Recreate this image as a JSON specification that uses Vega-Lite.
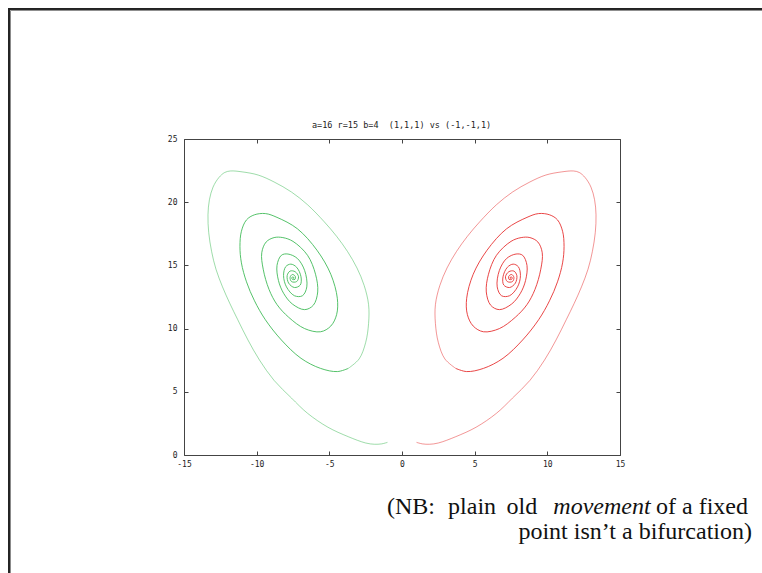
{
  "$schema": "https://vega.github.io/schema/vega-lite/v6.json",
  "width": 436,
  "height": 316,
  "autosize": "none",
  "padding": {"left": 184, "top": 139, "right": 142, "bottom": 118},
  "background": "#ffffff",
  "config": {
    "view": {"stroke": "#444444", "strokeWidth": 1},
    "axis": {"domain": false, "grid": false, "tickColor": "#444444", "tickSize": -4, "tickWidth": 1, "labelFont": "DejaVu Sans Mono", "labelFontSize": 8, "labelColor": "#222222", "labelFlush": false, "labelOverlap": false, "labelBound": false}
  },
  "datasets": {
    "traj": [
      {"r":"(1,1,1)","p":"outer","t":0,"x":1.0,"z":1.0},{"r":"(1,1,1)","p":"outer","t":1,"x":1.4,"z":0.88},{"r":"(1,1,1)","p":"outer","t":2,"x":1.9,"z":0.85},{"r":"(1,1,1)","p":"outer","t":3,"x":2.5,"z":0.95},{"r":"(1,1,1)","p":"outer","t":4,"x":3.7,"z":1.45},{"r":"(1,1,1)","p":"outer","t":5,"x":5.1,"z":2.2},{"r":"(1,1,1)","p":"outer","t":6,"x":6.5,"z":3.3},{"r":"(1,1,1)","p":"outer","t":7,"x":7.6,"z":4.5},{"r":"(1,1,1)","p":"outer","t":8,"x":8.8,"z":5.9},{"r":"(1,1,1)","p":"outer","t":9,"x":9.8,"z":7.5},{"r":"(1,1,1)","p":"outer","t":10,"x":10.6,"z":9.1},{"r":"(1,1,1)","p":"outer","t":11,"x":11.3,"z":10.7},{"r":"(1,1,1)","p":"outer","t":12,"x":11.85,"z":12.0},{"r":"(1,1,1)","p":"outer","t":13,"x":12.35,"z":13.3},{"r":"(1,1,1)","p":"outer","t":14,"x":12.8,"z":14.7},{"r":"(1,1,1)","p":"outer","t":15,"x":13.1,"z":16.1},{"r":"(1,1,1)","p":"outer","t":16,"x":13.3,"z":17.6},{"r":"(1,1,1)","p":"outer","t":17,"x":13.35,"z":19.0},{"r":"(1,1,1)","p":"outer","t":18,"x":13.25,"z":20.2},{"r":"(1,1,1)","p":"outer","t":19,"x":13.0,"z":21.2},{"r":"(1,1,1)","p":"outer","t":20,"x":12.6,"z":21.95},{"r":"(1,1,1)","p":"outer","t":21,"x":12.2,"z":22.35},{"r":"(1,1,1)","p":"outer","t":22,"x":11.8,"z":22.47},{"r":"(1,1,1)","p":"outer","t":23,"x":11.0,"z":22.4},{"r":"(1,1,1)","p":"outer","t":24,"x":9.9,"z":22.15},{"r":"(1,1,1)","p":"outer","t":25,"x":8.8,"z":21.6},{"r":"(1,1,1)","p":"outer","t":26,"x":7.6,"z":20.8},{"r":"(1,1,1)","p":"outer","t":27,"x":6.5,"z":19.8},{"r":"(1,1,1)","p":"outer","t":28,"x":5.35,"z":18.45},{"r":"(1,1,1)","p":"outer","t":29,"x":4.5,"z":17.3},{"r":"(1,1,1)","p":"outer","t":30,"x":3.75,"z":16.1},{"r":"(1,1,1)","p":"outer","t":31,"x":3.1,"z":14.8},{"r":"(1,1,1)","p":"outer","t":32,"x":2.6,"z":13.4},{"r":"(1,1,1)","p":"outer","t":33,"x":2.3,"z":11.9},{"r":"(1,1,1)","p":"outer","t":34,"x":2.3,"z":10.4},{"r":"(1,1,1)","p":"outer","t":35,"x":2.5,"z":8.9},{"r":"(1,1,1)","p":"outer","t":36,"x":2.95,"z":7.6},{"r":"(1,1,1)","p":"outer","t":37,"x":3.7,"z":6.85},
      {"r":"(1,1,1)","p":"inner","t":37,"x":3.7,"z":6.85},{"r":"(1,1,1)","p":"inner","t":38,"x":4.45,"z":6.6},{"r":"(1,1,1)","p":"inner","t":39,"x":5.6,"z":6.85},{"r":"(1,1,1)","p":"inner","t":40,"x":6.95,"z":7.65},{"r":"(1,1,1)","p":"inner","t":41,"x":8.3,"z":9.1},{"r":"(1,1,1)","p":"inner","t":42,"x":9.4,"z":10.7},{"r":"(1,1,1)","p":"inner","t":43,"x":10.15,"z":12.2},{"r":"(1,1,1)","p":"inner","t":44,"x":10.7,"z":13.7},{"r":"(1,1,1)","p":"inner","t":45,"x":11.05,"z":15.2},{"r":"(1,1,1)","p":"inner","t":46,"x":11.15,"z":16.5},{"r":"(1,1,1)","p":"inner","t":47,"x":11.05,"z":17.7},{"r":"(1,1,1)","p":"inner","t":48,"x":10.7,"z":18.6},{"r":"(1,1,1)","p":"inner","t":49,"x":10.16,"z":19.0},{"r":"(1,1,1)","p":"inner","t":50,"x":9.4,"z":19.1},{"r":"(1,1,1)","p":"inner","t":51,"x":8.6,"z":18.8},{"r":"(1,1,1)","p":"inner","t":52,"x":7.2,"z":17.9},{"r":"(1,1,1)","p":"inner","t":53,"x":5.85,"z":16.2},{"r":"(1,1,1)","p":"inner","t":54,"x":4.9,"z":14.3},{"r":"(1,1,1)","p":"inner","t":55,"x":4.45,"z":12.4},{"r":"(1,1,1)","p":"inner","t":56,"x":4.5,"z":11.1},{"r":"(1,1,1)","p":"inner","t":57,"x":4.9,"z":10.2},{"r":"(1,1,1)","p":"inner","t":58,"x":5.6,"z":9.75},{"r":"(1,1,1)","p":"inner","t":59,"x":6.7,"z":10.0},{"r":"(1,1,1)","p":"inner","t":60,"x":7.8,"z":10.9},{"r":"(1,1,1)","p":"inner","t":61,"x":8.6,"z":11.9},{"r":"(1,1,1)","p":"inner","t":62,"x":9.15,"z":13.1},{"r":"(1,1,1)","p":"inner","t":63,"x":9.55,"z":14.7},{"r":"(1,1,1)","p":"inner","t":64,"x":9.65,"z":16.0},{"r":"(1,1,1)","p":"inner","t":65,"x":9.35,"z":16.85},{"r":"(1,1,1)","p":"inner","t":66,"x":8.8,"z":17.2},{"r":"(1,1,1)","p":"inner","t":67,"x":8.2,"z":17.2},{"r":"(1,1,1)","p":"inner","t":68,"x":7.5,"z":16.9},{"r":"(1,1,1)","p":"inner","t":69,"x":6.5,"z":15.8},{"r":"(1,1,1)","p":"inner","t":70,"x":5.95,"z":14.3},{"r":"(1,1,1)","p":"inner","t":71,"x":5.8,"z":12.9},{"r":"(1,1,1)","p":"inner","t":72,"x":6.1,"z":11.85},{"r":"(1,1,1)","p":"inner","t":73,"x":6.7,"z":11.5},{"r":"(1,1,1)","p":"inner","t":74,"x":7.55,"z":11.95},{"r":"(1,1,1)","p":"inner","t":75,"x":8.15,"z":12.8},{"r":"(1,1,1)","p":"inner","t":76,"x":8.5,"z":13.8},{"r":"(1,1,1)","p":"inner","t":77,"x":8.6,"z":15.0},{"r":"(1,1,1)","p":"inner","t":78,"x":8.3,"z":15.8},{"r":"(1,1,1)","p":"inner","t":79,"x":7.85,"z":15.9},{"r":"(1,1,1)","p":"inner","t":80,"x":7.2,"z":15.55},{"r":"(1,1,1)","p":"inner","t":81,"x":6.7,"z":14.6},{"r":"(1,1,1)","p":"inner","t":82,"x":6.55,"z":13.3},{"r":"(1,1,1)","p":"inner","t":83,"x":6.85,"z":12.6},{"r":"(1,1,1)","p":"inner","t":84,"x":7.4,"z":12.6},{"r":"(1,1,1)","p":"inner","t":85,"x":7.95,"z":13.3},{"r":"(1,1,1)","p":"inner","t":86,"x":8.15,"z":14.2},{"r":"(1,1,1)","p":"inner","t":87,"x":8.0,"z":14.9},{"r":"(1,1,1)","p":"inner","t":88,"x":7.65,"z":15.1},{"r":"(1,1,1)","p":"inner","t":89,"x":7.25,"z":14.85},{"r":"(1,1,1)","p":"inner","t":90,"x":6.95,"z":14.1},{"r":"(1,1,1)","p":"inner","t":91,"x":7.0,"z":13.45},{"r":"(1,1,1)","p":"inner","t":92,"x":7.4,"z":13.25},{"r":"(1,1,1)","p":"inner","t":93,"x":7.8,"z":13.6},{"r":"(1,1,1)","p":"inner","t":94,"x":7.9,"z":14.2},{"r":"(1,1,1)","p":"inner","t":95,"x":7.7,"z":14.55},{"r":"(1,1,1)","p":"inner","t":96,"x":7.35,"z":14.5},{"r":"(1,1,1)","p":"inner","t":97,"x":7.12,"z":14.1},{"r":"(1,1,1)","p":"inner","t":98,"x":7.25,"z":13.72},{"r":"(1,1,1)","p":"inner","t":99,"x":7.6,"z":13.72},{"r":"(1,1,1)","p":"inner","t":100,"x":7.7,"z":14.05},{"r":"(1,1,1)","p":"inner","t":101,"x":7.55,"z":14.28},{"r":"(1,1,1)","p":"inner","t":102,"x":7.35,"z":14.15},{"r":"(1,1,1)","p":"inner","t":103,"x":7.36,"z":13.9},{"r":"(1,1,1)","p":"inner","t":104,"x":7.55,"z":13.9},{"r":"(1,1,1)","p":"inner","t":105,"x":7.58,"z":14.05},{"r":"(1,1,1)","p":"inner","t":106,"x":7.47,"z":14.08},{"r":"(1,1,1)","p":"inner","t":107,"x":7.44,"z":13.98},{"r":"(1,1,1)","p":"inner","t":108,"x":7.5,"z":14.0},
      {"r":"(-1,-1,1)","p":"outer","t":0,"x":-1.0,"z":1.0},{"r":"(-1,-1,1)","p":"outer","t":1,"x":-1.4,"z":0.88},{"r":"(-1,-1,1)","p":"outer","t":2,"x":-1.9,"z":0.85},{"r":"(-1,-1,1)","p":"outer","t":3,"x":-2.5,"z":0.95},{"r":"(-1,-1,1)","p":"outer","t":4,"x":-3.7,"z":1.45},{"r":"(-1,-1,1)","p":"outer","t":5,"x":-5.1,"z":2.2},{"r":"(-1,-1,1)","p":"outer","t":6,"x":-6.5,"z":3.3},{"r":"(-1,-1,1)","p":"outer","t":7,"x":-7.6,"z":4.5},{"r":"(-1,-1,1)","p":"outer","t":8,"x":-8.8,"z":5.9},{"r":"(-1,-1,1)","p":"outer","t":9,"x":-9.8,"z":7.5},{"r":"(-1,-1,1)","p":"outer","t":10,"x":-10.6,"z":9.1},{"r":"(-1,-1,1)","p":"outer","t":11,"x":-11.3,"z":10.7},{"r":"(-1,-1,1)","p":"outer","t":12,"x":-11.85,"z":12.0},{"r":"(-1,-1,1)","p":"outer","t":13,"x":-12.35,"z":13.3},{"r":"(-1,-1,1)","p":"outer","t":14,"x":-12.8,"z":14.7},{"r":"(-1,-1,1)","p":"outer","t":15,"x":-13.1,"z":16.1},{"r":"(-1,-1,1)","p":"outer","t":16,"x":-13.3,"z":17.6},{"r":"(-1,-1,1)","p":"outer","t":17,"x":-13.35,"z":19.0},{"r":"(-1,-1,1)","p":"outer","t":18,"x":-13.25,"z":20.2},{"r":"(-1,-1,1)","p":"outer","t":19,"x":-13.0,"z":21.2},{"r":"(-1,-1,1)","p":"outer","t":20,"x":-12.6,"z":21.95},{"r":"(-1,-1,1)","p":"outer","t":21,"x":-12.2,"z":22.35},{"r":"(-1,-1,1)","p":"outer","t":22,"x":-11.8,"z":22.47},{"r":"(-1,-1,1)","p":"outer","t":23,"x":-11.0,"z":22.4},{"r":"(-1,-1,1)","p":"outer","t":24,"x":-9.9,"z":22.15},{"r":"(-1,-1,1)","p":"outer","t":25,"x":-8.8,"z":21.6},{"r":"(-1,-1,1)","p":"outer","t":26,"x":-7.6,"z":20.8},{"r":"(-1,-1,1)","p":"outer","t":27,"x":-6.5,"z":19.8},{"r":"(-1,-1,1)","p":"outer","t":28,"x":-5.35,"z":18.45},{"r":"(-1,-1,1)","p":"outer","t":29,"x":-4.5,"z":17.3},{"r":"(-1,-1,1)","p":"outer","t":30,"x":-3.75,"z":16.1},{"r":"(-1,-1,1)","p":"outer","t":31,"x":-3.1,"z":14.8},{"r":"(-1,-1,1)","p":"outer","t":32,"x":-2.6,"z":13.4},{"r":"(-1,-1,1)","p":"outer","t":33,"x":-2.3,"z":11.9},{"r":"(-1,-1,1)","p":"outer","t":34,"x":-2.3,"z":10.4},{"r":"(-1,-1,1)","p":"outer","t":35,"x":-2.5,"z":8.9},{"r":"(-1,-1,1)","p":"outer","t":36,"x":-2.95,"z":7.6},{"r":"(-1,-1,1)","p":"outer","t":37,"x":-3.7,"z":6.85},
      {"r":"(-1,-1,1)","p":"inner","t":37,"x":-3.7,"z":6.85},{"r":"(-1,-1,1)","p":"inner","t":38,"x":-4.45,"z":6.6},{"r":"(-1,-1,1)","p":"inner","t":39,"x":-5.6,"z":6.85},{"r":"(-1,-1,1)","p":"inner","t":40,"x":-6.95,"z":7.65},{"r":"(-1,-1,1)","p":"inner","t":41,"x":-8.3,"z":9.1},{"r":"(-1,-1,1)","p":"inner","t":42,"x":-9.4,"z":10.7},{"r":"(-1,-1,1)","p":"inner","t":43,"x":-10.15,"z":12.2},{"r":"(-1,-1,1)","p":"inner","t":44,"x":-10.7,"z":13.7},{"r":"(-1,-1,1)","p":"inner","t":45,"x":-11.05,"z":15.2},{"r":"(-1,-1,1)","p":"inner","t":46,"x":-11.15,"z":16.5},{"r":"(-1,-1,1)","p":"inner","t":47,"x":-11.05,"z":17.7},{"r":"(-1,-1,1)","p":"inner","t":48,"x":-10.7,"z":18.6},{"r":"(-1,-1,1)","p":"inner","t":49,"x":-10.16,"z":19.0},{"r":"(-1,-1,1)","p":"inner","t":50,"x":-9.4,"z":19.1},{"r":"(-1,-1,1)","p":"inner","t":51,"x":-8.6,"z":18.8},{"r":"(-1,-1,1)","p":"inner","t":52,"x":-7.2,"z":17.9},{"r":"(-1,-1,1)","p":"inner","t":53,"x":-5.85,"z":16.2},{"r":"(-1,-1,1)","p":"inner","t":54,"x":-4.9,"z":14.3},{"r":"(-1,-1,1)","p":"inner","t":55,"x":-4.45,"z":12.4},{"r":"(-1,-1,1)","p":"inner","t":56,"x":-4.5,"z":11.1},{"r":"(-1,-1,1)","p":"inner","t":57,"x":-4.9,"z":10.2},{"r":"(-1,-1,1)","p":"inner","t":58,"x":-5.6,"z":9.75},{"r":"(-1,-1,1)","p":"inner","t":59,"x":-6.7,"z":10.0},{"r":"(-1,-1,1)","p":"inner","t":60,"x":-7.8,"z":10.9},{"r":"(-1,-1,1)","p":"inner","t":61,"x":-8.6,"z":11.9},{"r":"(-1,-1,1)","p":"inner","t":62,"x":-9.15,"z":13.1},{"r":"(-1,-1,1)","p":"inner","t":63,"x":-9.55,"z":14.7},{"r":"(-1,-1,1)","p":"inner","t":64,"x":-9.65,"z":16.0},{"r":"(-1,-1,1)","p":"inner","t":65,"x":-9.35,"z":16.85},{"r":"(-1,-1,1)","p":"inner","t":66,"x":-8.8,"z":17.2},{"r":"(-1,-1,1)","p":"inner","t":67,"x":-8.2,"z":17.2},{"r":"(-1,-1,1)","p":"inner","t":68,"x":-7.5,"z":16.9},{"r":"(-1,-1,1)","p":"inner","t":69,"x":-6.5,"z":15.8},{"r":"(-1,-1,1)","p":"inner","t":70,"x":-5.95,"z":14.3},{"r":"(-1,-1,1)","p":"inner","t":71,"x":-5.8,"z":12.9},{"r":"(-1,-1,1)","p":"inner","t":72,"x":-6.1,"z":11.85},{"r":"(-1,-1,1)","p":"inner","t":73,"x":-6.7,"z":11.5},{"r":"(-1,-1,1)","p":"inner","t":74,"x":-7.55,"z":11.95},{"r":"(-1,-1,1)","p":"inner","t":75,"x":-8.15,"z":12.8},{"r":"(-1,-1,1)","p":"inner","t":76,"x":-8.5,"z":13.8},{"r":"(-1,-1,1)","p":"inner","t":77,"x":-8.6,"z":15.0},{"r":"(-1,-1,1)","p":"inner","t":78,"x":-8.3,"z":15.8},{"r":"(-1,-1,1)","p":"inner","t":79,"x":-7.85,"z":15.9},{"r":"(-1,-1,1)","p":"inner","t":80,"x":-7.2,"z":15.55},{"r":"(-1,-1,1)","p":"inner","t":81,"x":-6.7,"z":14.6},{"r":"(-1,-1,1)","p":"inner","t":82,"x":-6.55,"z":13.3},{"r":"(-1,-1,1)","p":"inner","t":83,"x":-6.85,"z":12.6},{"r":"(-1,-1,1)","p":"inner","t":84,"x":-7.4,"z":12.6},{"r":"(-1,-1,1)","p":"inner","t":85,"x":-7.95,"z":13.3},{"r":"(-1,-1,1)","p":"inner","t":86,"x":-8.15,"z":14.2},{"r":"(-1,-1,1)","p":"inner","t":87,"x":-8.0,"z":14.9},{"r":"(-1,-1,1)","p":"inner","t":88,"x":-7.65,"z":15.1},{"r":"(-1,-1,1)","p":"inner","t":89,"x":-7.25,"z":14.85},{"r":"(-1,-1,1)","p":"inner","t":90,"x":-6.95,"z":14.1},{"r":"(-1,-1,1)","p":"inner","t":91,"x":-7.0,"z":13.45},{"r":"(-1,-1,1)","p":"inner","t":92,"x":-7.4,"z":13.25},{"r":"(-1,-1,1)","p":"inner","t":93,"x":-7.8,"z":13.6},{"r":"(-1,-1,1)","p":"inner","t":94,"x":-7.9,"z":14.2},{"r":"(-1,-1,1)","p":"inner","t":95,"x":-7.7,"z":14.55},{"r":"(-1,-1,1)","p":"inner","t":96,"x":-7.35,"z":14.5},{"r":"(-1,-1,1)","p":"inner","t":97,"x":-7.12,"z":14.1},{"r":"(-1,-1,1)","p":"inner","t":98,"x":-7.25,"z":13.72},{"r":"(-1,-1,1)","p":"inner","t":99,"x":-7.6,"z":13.72},{"r":"(-1,-1,1)","p":"inner","t":100,"x":-7.7,"z":14.05},{"r":"(-1,-1,1)","p":"inner","t":101,"x":-7.55,"z":14.28},{"r":"(-1,-1,1)","p":"inner","t":102,"x":-7.35,"z":14.15},{"r":"(-1,-1,1)","p":"inner","t":103,"x":-7.36,"z":13.9},{"r":"(-1,-1,1)","p":"inner","t":104,"x":-7.55,"z":13.9},{"r":"(-1,-1,1)","p":"inner","t":105,"x":-7.58,"z":14.05},{"r":"(-1,-1,1)","p":"inner","t":106,"x":-7.47,"z":14.08},{"r":"(-1,-1,1)","p":"inner","t":107,"x":-7.44,"z":13.98},{"r":"(-1,-1,1)","p":"inner","t":108,"x":-7.5,"z":14.0}
    ]
  },
  "layer": [
    {
      "data": {"values": [{}]},
      "mark": {"type": "rect", "fill": "#ffffff", "fillOpacity": 0, "stroke": "#222222", "strokeWidth": 2},
      "encoding": {
        "x": {"datum": -27.04, "type": "quantitative", "scale": {"domain": [-15, 15], "nice": false, "zero": false}, "axis": null},
        "x2": {"datum": 60},
        "y": {"datum": 35.28, "type": "quantitative", "scale": {"domain": [0, 25], "nice": false, "zero": false}, "axis": null},
        "y2": {"datum": -40}
      }
    },
    {
      "data": {"values": [{}]},
      "mark": {"type": "rect", "fill": "#ffffff", "fillOpacity": 0, "stroke": "#888888", "strokeWidth": 1},
      "encoding": {
        "x": {"datum": -26.94, "type": "quantitative", "scale": {"domain": [-15, 15], "nice": false, "zero": false}, "axis": null},
        "x2": {"datum": 60},
        "y": {"datum": 35.17, "type": "quantitative", "scale": {"domain": [0, 25], "nice": false, "zero": false}, "axis": null},
        "y2": {"datum": -40}
      }
    },
    {
      "data": {"name": "traj"},
      "mark": {"type": "line", "strokeWidth": 1, "interpolate": "catmull-rom"},
      "encoding": {
        "x": {"field": "x", "type": "quantitative", "scale": {"domain": [-15, 15], "nice": false, "zero": false}, "axis": {"orient": "bottom", "title": null, "values": [-15, -10, -5, 0, 5, 10, 15], "labelPadding": 9, "labelExpr": "'' + datum.value"}},
        "y": {"field": "z", "type": "quantitative", "scale": {"domain": [0, 25], "nice": false, "zero": false}, "axis": {"orient": "left", "title": null, "values": [0, 5, 10, 15, 20, 25], "labelPadding": 11, "labelExpr": "'' + datum.value"}},
        "color": {"field": "r", "type": "nominal", "scale": {"domain": ["(1,1,1)", "(-1,-1,1)"], "range": ["#e62e2e", "#3dba55"]}, "legend": null},
        "opacity": {"field": "p", "type": "nominal", "scale": {"domain": ["outer", "inner"], "range": [0.5, 0.88]}, "legend": null},
        "order": {"field": "t", "type": "quantitative"}
      }
    },
    {
      "data": {"values": [{}]},
      "mark": {"type": "point", "opacity": 0},
      "encoding": {
        "x": {"datum": 0, "type": "quantitative", "scale": {"domain": [-15, 15], "nice": false, "zero": false}, "axis": {"orient": "top", "title": null, "labels": false, "values": [-15, -10, -5, 0, 5, 10, 15]}},
        "y": {"datum": 10, "type": "quantitative", "scale": {"domain": [0, 25], "nice": false, "zero": false}, "axis": {"orient": "right", "title": null, "labels": false, "values": [0, 5, 10, 15, 20, 25]}}
      }
    },
    {
      "data": {"values": [{}]},
      "mark": {"type": "text", "text": "a=16 r=15 b=4 \u00a0(1,1,1) vs (-1,-1,1)", "font": "DejaVu Sans Mono", "fontSize": 8.5, "align": "center", "baseline": "alphabetic", "color": "#222222"},
      "encoding": {"x": {"datum": -0.03, "type": "quantitative", "axis": null}, "y": {"datum": 25.9, "type": "quantitative", "axis": null}}
    },
    {
      "data": {"values": [{}]},
      "mark": {"type": "text", "text": "(NB:", "font": "Liberation Serif", "fontSize": 24, "align": "left", "baseline": "alphabetic", "color": "#111111"},
      "encoding": {"x": {"datum": -1.03, "type": "quantitative", "axis": null}, "y": {"datum": -4.67, "type": "quantitative", "axis": null}}
    },
    {
      "data": {"values": [{}]},
      "mark": {"type": "text", "text": "plain", "font": "Liberation Serif", "fontSize": 24, "align": "left", "baseline": "alphabetic", "color": "#111111"},
      "encoding": {"x": {"datum": 3.17, "type": "quantitative", "axis": null}, "y": {"datum": -4.67, "type": "quantitative", "axis": null}}
    },
    {
      "data": {"values": [{}]},
      "mark": {"type": "text", "text": "old", "font": "Liberation Serif", "fontSize": 24, "align": "left", "baseline": "alphabetic", "color": "#111111"},
      "encoding": {"x": {"datum": 7.19, "type": "quantitative", "axis": null}, "y": {"datum": -4.67, "type": "quantitative", "axis": null}}
    },
    {
      "data": {"values": [{}]},
      "mark": {"type": "text", "text": "movement", "font": "Liberation Serif", "fontSize": 24, "fontStyle": "italic", "align": "center", "baseline": "alphabetic", "color": "#111111"},
      "encoding": {"x": {"datum": 13.76, "type": "quantitative", "axis": null}, "y": {"datum": -4.67, "type": "quantitative", "axis": null}}
    },
    {
      "data": {"values": [{}]},
      "mark": {"type": "text", "text": "of a fixed", "font": "Liberation Serif", "fontSize": 24, "align": "right", "baseline": "alphabetic", "color": "#111111"},
      "encoding": {"x": {"datum": 23.81, "type": "quantitative", "axis": null}, "y": {"datum": -4.67, "type": "quantitative", "axis": null}}
    },
    {
      "data": {"values": [{}]},
      "mark": {"type": "text", "text": "point isn’t a bifurcation)", "font": "Liberation Serif", "fontSize": 24, "align": "right", "baseline": "alphabetic", "color": "#111111"},
      "encoding": {"x": {"datum": 24.08, "type": "quantitative", "axis": null}, "y": {"datum": -6.65, "type": "quantitative", "axis": null}}
    }
  ],
  "resolve": {"axis": {"x": "independent", "y": "independent"}}
}
